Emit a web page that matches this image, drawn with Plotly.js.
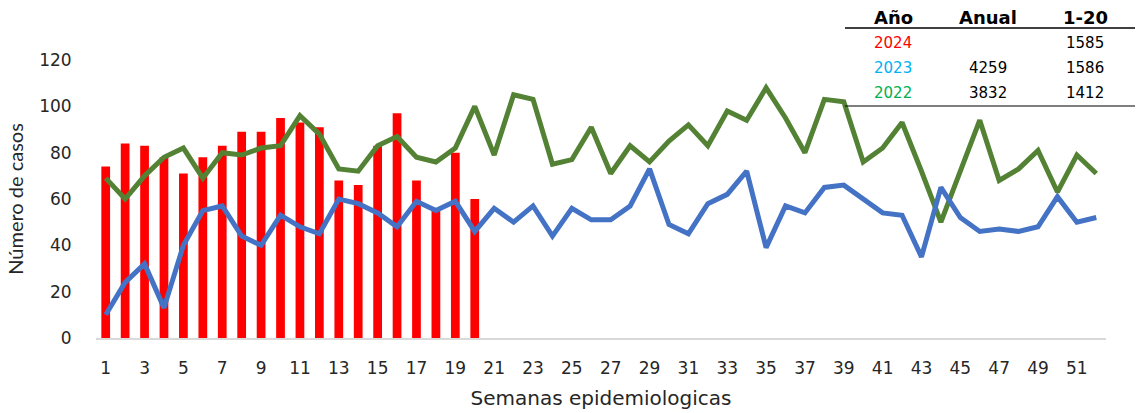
<!DOCTYPE html>
<html><head><meta charset="utf-8">
<script src="https://cdn.plot.ly/plotly-3.0.1.min.js"></script>
<style>html,body{margin:0;padding:0;background:#fff}#chart{width:1141px;height:413px}</style>
</head><body><div id="chart"></div>
<script>
const weeks = Array.from({length:52},(_,i)=>i+1);
const weeks2024 = weeks.slice(0,20);
const cases2024 = [74,84,83,78,71,78,83,89,89,95,93,91,68,66,83,97,68,55,80,60];
const cases2023 = [10,24,32,13,40,55,57,44,40,53,48,45,60,58,54,48,59,55,59,46,
  56,50,57,44,56,51,51,57,73,49,45,58,62,72,39,57,54,65,66,60,54,53,35,65,52,46,47,46,48,61,50,52];
const cases2022 = [69,60,70,78,82,69,80,79,82,83,96,88,73,72,83,87,78,76,82,100,
  79,105,103,75,77,91,71,83,76,85,92,83,98,94,108,95,80,103,102,76,82,93,72,50,72,94,68,73,81,63,79,71];
const tickWeeks = weeks.filter(w=>w%2===1);
const tableHeader = ["Año","Anual","1-20"];
const tableYears = ["2024","2023","2022"];
const tableYearColors = ["#FF0000","#00B0F0","#00B050"];
const tableAnual = ["","4259","3832"];
const table120 = ["1585","1586","1412"];

const font = "'DejaVu Sans', sans-serif";
const traces = [
  {type:'bar', x:weeks2024, y:cases2024, marker:{color:'#FF0000'}, name:'2024'},
  {type:'scatter', mode:'lines', x:weeks, y:cases2022, line:{color:'#548235', width:5}, name:'2022'},
  {type:'scatter', mode:'lines', x:weeks, y:cases2023, line:{color:'#4472C4', width:5}, name:'2023'}
];
const L=96, R=1106, T=60, B=338;
const px = v => (v-L)/(R-L);
const py = v => (B-v)/(B-T);
const colX = [893, 988, 1085];
const rowY = [43, 68, 93];
const ann = [];
tableHeader.forEach((h,i)=>ann.push({xref:'paper',yref:'paper',x:px(colX[i]),y:py(17),text:'<b>'+h+'</b>',showarrow:false,xanchor:'center',yanchor:'middle',font:{family:font,size:18,color:'#000'}}));
tableYears.forEach((t,i)=>{
  ann.push({xref:'paper',yref:'paper',x:px(colX[0]),y:py(rowY[i]),text:t,showarrow:false,xanchor:'center',yanchor:'middle',font:{family:font,size:15,color:tableYearColors[i]}});
  if(tableAnual[i]) ann.push({xref:'paper',yref:'paper',x:px(colX[1]),y:py(rowY[i]),text:tableAnual[i],showarrow:false,xanchor:'center',yanchor:'middle',font:{family:font,size:15,color:'#000'}});
  ann.push({xref:'paper',yref:'paper',x:px(colX[2]),y:py(rowY[i]),text:table120[i],showarrow:false,xanchor:'center',yanchor:'middle',font:{family:font,size:15,color:'#000'}});
});
const shapes = [
  {type:'line',xref:'paper',yref:'paper',x0:px(845),x1:px(1135),y0:py(28),y1:py(28),line:{color:'#000',width:1.5}},
  {type:'line',xref:'paper',yref:'paper',x0:px(845),x1:px(1135),y0:py(106),y1:py(106),line:{color:'#000',width:1.2}}
];
const layout = {
  width:1141, height:413,
  margin:{l:L, r:1141-R, t:T, b:413-B},
  paper_bgcolor:'#fff', plot_bgcolor:'#fff',
  showlegend:false, bargap:0.55,
  font:{family:font, size:17, color:'#262626'},
  xaxis:{range:[0.5,52.5], tickvals:tickWeeks, ticktext:tickWeeks.map(String), showgrid:false, zeroline:false,
    showline:true, linecolor:'#D9D9D9', linewidth:1.5, ticks:'outside', ticklen:14, tickcolor:'rgba(0,0,0,0)',
    tickfont:{family:font,size:17,color:'#262626'},
    title:{text:'Semanas epidemiologicas', font:{family:font,size:20,color:'#262626'}, standoff:14}},
  yaxis:{range:[0,120], dtick:20, showgrid:false, zeroline:false, showline:false, ticks:'outside', ticklen:20, tickcolor:'rgba(0,0,0,0)',
    tickfont:{family:font,size:17,color:'#262626'},
    title:{text:'Número de casos', font:{family:"Lato, sans-serif",size:20,color:'#262626'}, standoff:10}},
  annotations:ann, shapes:shapes
};
Plotly.newPlot('chart', traces, layout, {displayModeBar:false, staticPlot:true});
</script></body></html>
